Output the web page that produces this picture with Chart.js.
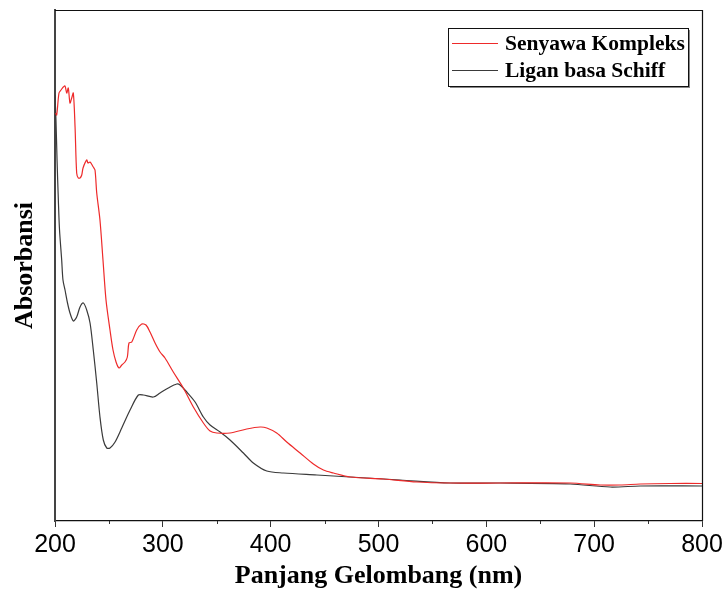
<!DOCTYPE html>
<html>
<head>
<meta charset="utf-8">
<script src="https://cdn.jsdelivr.net/npm/chart.js@4/dist/chart.umd.min.js"></script>
<style>
  html, body { margin: 0; padding: 0; background: #fff; overflow: hidden; }
  #wrap { width: 722px; height: 592px; position: relative; }
  #c { display: block; }
</style>
</head>
<body>
<div id="wrap"><canvas id="c"></canvas></div>
<script>
'use strict';

// ── Data (arbitrary absorbance units) ──
const X_TICKS = [200, 300, 400, 500, 600, 700, 800];
const MINOR_TICKS = [250, 350, 450, 550, 650, 750];

const kompleksNm = [
  200.6, 201.6, 203.7, 205.6, 207.7, 209.3, 210.9, 212.3, 213.9, 215.5, 217.0, 218.6,
  220.1, 221.6, 223.2, 224.8, 226.0, 229.4, 230.6, 232.5, 235.5, 237.1, 238.7, 241.7,
  244.5, 247.3, 251.0, 253.8, 256.6, 259.4, 261.9, 264.9, 267.1, 268.6, 271.2, 275.8,
  280.4, 284.4, 288.1, 292.8, 297.4, 302.0, 309.7, 319.0, 328.3, 337.6, 343.8, 350.0,
  362.3, 377.8, 390.2, 396.4, 405.6, 414.9, 427.3, 439.6, 448.9, 458.2, 473.7, 504.6,
  535.5, 566.4, 612.8, 677.7, 705.6, 724.1, 742.7, 770.5, 800
];
const kompleksAbs = [
  4.08, 4.06, 4.28, 4.31, 4.34, 4.35, 4.28, 4.33, 4.18, 4.23, 4.28, 3.94,
  3.48, 3.43, 3.43, 3.46, 3.53, 3.61, 3.58, 3.59, 3.54, 3.51, 3.28, 3.01,
  2.61, 2.21, 1.91, 1.71, 1.59, 1.53, 1.56, 1.59, 1.64, 1.78, 1.79, 1.91,
  1.97, 1.96, 1.89, 1.78, 1.69, 1.63, 1.49, 1.33, 1.14, 0.98, 0.90, 0.88,
  0.88, 0.92, 0.94, 0.93, 0.88, 0.79, 0.68, 0.57, 0.51, 0.48, 0.44, 0.42,
  0.39, 0.38, 0.38, 0.38, 0.36, 0.36, 0.37, 0.375, 0.375
];

const liganNm = [
  200, 200.9, 201.9, 203.1, 204.2, 206.2, 207.4, 209.3, 211.6, 213.9, 217.0, 220.1,
  223.2, 226.3, 229.4, 232.5, 235.5, 238.7, 241.7, 244.8, 248.0, 251.0, 255.7, 261.9,
  269.6, 277.3, 281.9, 291.2, 297.4, 305.1, 312.9, 316.0, 322.2, 329.9, 337.6, 343.8,
  353.1, 362.3, 374.7, 383.9, 396.4, 411.8, 442.8, 473.7, 520.1, 566.4, 612.8, 677.7,
  714.8, 742.7, 800
];
const liganAbs = [
  4.26, 4.01, 3.61, 3.21, 2.91, 2.61, 2.41, 2.31, 2.18, 2.08, 2.00, 2.04,
  2.14, 2.18, 2.11, 1.98, 1.71, 1.38, 1.04, 0.81, 0.73, 0.73, 0.79, 0.93,
  1.11, 1.26, 1.26, 1.24, 1.28, 1.33, 1.37, 1.36, 1.29, 1.19, 1.04, 0.96,
  0.89, 0.81, 0.68, 0.58, 0.50, 0.48, 0.46, 0.44, 0.41, 0.38, 0.38, 0.37,
  0.34, 0.35, 0.35
];

const SERIES_LABELS = ['Senyawa Kompleks', 'Ligan basa Schiff'];
const SERIES_COLORS = ['#ee2a2a', '#3a3a3a'];

const SERIF = "'Liberation Serif', 'Times New Roman', serif";
const NARROW = "'Liberation Sans Narrow', 'Liberation Sans', Arial, sans-serif";

function toPoints(xs, ys) {
  return xs.map((x, i) => ({ x, y: ys[i] }));
}

// ── Plugins: frame, minor ticks, boxed legend ──
const framePlugin = {
  id: 'frame',
  afterDatasetsDraw(chart) {
    const { ctx, chartArea: a, scales } = chart;
    ctx.save();
    ctx.strokeStyle = '#111';
    ctx.lineWidth = 1.2;
    ctx.beginPath();
    ctx.moveTo(a.left, a.top + 0.5);
    ctx.lineTo(a.right + 0.5, a.top + 0.5);
    ctx.lineTo(a.right + 0.5, a.bottom);
    ctx.stroke();

    // minor ticks on the x axis
    ctx.strokeStyle = '#333';
    ctx.lineWidth = 1;
    MINOR_TICKS.forEach(v => {
      const px = Math.round(scales.x.getPixelForValue(v)) + 0.5;
      ctx.beginPath();
      ctx.moveTo(px, a.bottom);
      ctx.lineTo(px, a.bottom + 3);
      ctx.stroke();
    });
    ctx.restore();
  }
};

const legendBoxPlugin = {
  id: 'legendBox',
  afterDraw(chart) {
    const { ctx } = chart;
    const x0 = 448, y0 = 28, w = 240, h = 58;
    ctx.save();
    ctx.fillStyle = '#888';
    ctx.fillRect(x0 + 2, y0 + 2, w, h);
    ctx.fillStyle = '#fff';
    ctx.fillRect(x0, y0, w, h);
    ctx.strokeStyle = '#111';
    ctx.lineWidth = 1;
    ctx.strokeRect(x0 + 0.5, y0 + 0.5, w, h);

    ctx.font = `bold 21.5px ${SERIF}`;
    ctx.textBaseline = 'middle';
    ctx.fillStyle = '#000';
    chart.data.datasets.forEach((ds, i) => {
      const y = 43.5 + i * 27;
      ctx.strokeStyle = ds.borderColor;
      ctx.lineWidth = 1.2;
      ctx.beginPath();
      ctx.moveTo(452, y);
      ctx.lineTo(498, y);
      ctx.stroke();
      ctx.fillText(ds.label, 505, y + 1);
    });
    ctx.restore();
  }
};

// ── Chart ──
new Chart(document.getElementById('c'), {
  type: 'line',
  data: {
    datasets: [
      {
        label: SERIES_LABELS[0],
        data: toPoints(kompleksNm, kompleksAbs),
        borderColor: SERIES_COLORS[0],
        borderWidth: 1.2,
        pointRadius: 0,
        tension: 0.3,
        fill: false,
      },
      {
        label: SERIES_LABELS[1],
        data: toPoints(liganNm, liganAbs),
        borderColor: SERIES_COLORS[1],
        borderWidth: 1.2,
        pointRadius: 0,
        tension: 0.3,
        fill: false,
      },
    ],
  },
  options: {
    responsive: true,
    maintainAspectRatio: false,
    animation: false,
    layout: { padding: { top: 10, right: 20, left: 0, bottom: 0 } },
    plugins: { legend: { display: false }, tooltip: { enabled: false } },
    scales: {
      x: {
        type: 'linear',
        min: 200,
        max: 800,
        afterFit(scale) {
          scale.height = 71;
          scale.paddingLeft = 0;
          scale.paddingRight = 0;
        },
        afterBuildTicks(scale) { scale.ticks = X_TICKS.map(v => ({ value: v })); },
        border: { display: true, color: '#111', width: 1.2 },
        grid: { drawOnChartArea: false, drawTicks: true, tickLength: 6, color: '#333' },
        ticks: {
          padding: 3,
          color: '#000',
          font: { family: NARROW, size: 25 },
          maxRotation: 0,
        },
        title: {
          display: true,
          text: 'Panjang Gelombang (nm)',
          color: '#000',
          padding: 0,
          font: { family: SERIF, size: 26, weight: 'bold', lineHeight: 1.2 },
        },
      },
      y: {
        min: 0,
        max: 5.11,
        afterFit(scale) { scale.width = 55; },
        border: { display: true, color: '#444', width: 2 },
        grid: { display: false },
        ticks: { display: false },
        title: {
          display: true,
          text: 'Absorbansi',
          color: '#000',
          padding: 0,
          font: { family: SERIF, size: 26, weight: 'bold', lineHeight: 50 / 26 },
        },
      },
    },
  },
  plugins: [framePlugin, legendBoxPlugin],
});
</script>
</body>
</html>
